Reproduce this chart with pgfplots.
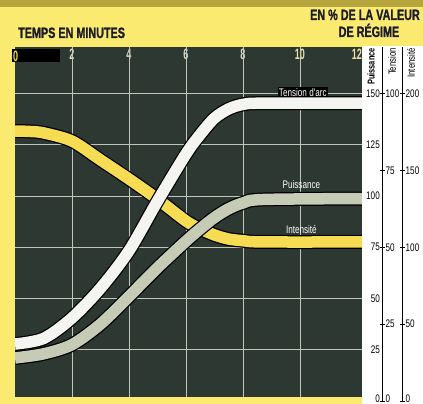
\documentclass[border=0pt]{standalone}
\usepackage{fontspec}
\setmainfont{Liberation Sans}
\newfontfamily\cond[FakeStretch=0.74]{Liberation Sans}
\newfontfamily\condt[FakeStretch=0.72, FakeBold=1.2]{Liberation Sans}
\newfontfamily\condn[FakeStretch=0.6]{Liberation Sans}
\usepackage{pgfplots}
\usepackage{pgfplotstable}
\pgfplotsset{compat=1.18}

\definecolor{bgyel}{HTML}{FAEB70}
\definecolor{olive}{HTML}{B5A53C}
\definecolor{plotbg}{HTML}{2E3833}
\definecolor{gridc}{HTML}{C4C6BC}
\definecolor{curvyel}{HTML}{F6DC52}
\definecolor{curvwht}{HTML}{F4F4F0}
\definecolor{curvgry}{HTML}{C6CBB5}
\definecolor{ticktxt}{HTML}{DDDACB}
\definecolor{tickyl}{HTML}{EDE3A0}
\definecolor{titletxt}{HTML}{1C1C2A}

% values in "Puissance" units (tension = 2/3, intensite = 4/3)
\pgfplotstableread{
t    v
0    27.8
1    30.5
2    40.5
3    55.0
4    73.3
5    97.5
6    120.5
6.5  130.0
7    138.0
7.5  142.5
8    144.7
8.7  145.3
12.5 145.3
}\tension

\pgfplotstableread{
t    v
0    21.0
1    23.0
2    27.5
3    37.5
4    51.0
5    65.0
6    78.0
6.5  84.0
7    89.5
7.5  93.8
8    96.6
8.7  98.3
12.5 98.8
}\puissance

\pgfplotstableread{
t    v
0    131.7
0.5  131.5
1    130.8
2    126.8
3    117.6
4    108.3
5    98.5
6    87.8
6.5  84.0
7    81.0
7.5  79.0
8    78.2
8.7  77.6
12.5 77.6
}\intensite

\newcommand\zerobox{\rlap{\kern-3pt\setlength\fboxsep{1pt}\colorbox{black}{\makebox[46pt][l]{\rule{0pt}{11pt}\textcolor{curvyel}{0}}}}}

\begin{document}
\begin{tikzpicture}[x=1pt,y=1pt]
\useasboundingbox (0,0) rectangle (423,404);
\fill[bgyel] (0,0) rectangle (423,404);
\fill[olive] (0,397) rectangle (423,404);
\fill[white] (362,0) rectangle (423,358);

\node[anchor=base west, inner sep=0, text=titletxt, font=\condt\bfseries\fontsize{15}{15}\selectfont] at (18,366) {TEMPS EN MINUTES};
\node[anchor=base east, inner sep=0, text=titletxt, font=\condt\bfseries\fontsize{15}{15}\selectfont] at (420,384) {EN \% DE LA VALEUR};
\node[anchor=base, inner sep=0, text=titletxt, font=\condt\bfseries\fontsize{15}{15}\selectfont] at (369,367) {DE RÉGIME};

\node[rotate=90, anchor=east, inner sep=0, font=\cond\bfseries\fontsize{10}{10}\selectfont] at (371,356) {Puissance};
\node[rotate=90, anchor=east, inner sep=0, font=\cond\fontsize{10.5}{10.5}\selectfont] at (392,356) {Tension};
\node[rotate=90, anchor=east, inner sep=0, font=\cond\fontsize{10.5}{10.5}\selectfont] at (411,356) {Intensité};

\begin{axis}[
  at={(15pt,7.1pt)}, anchor=south west,
  scale only axis, width=346.8pt, height=349.5pt,
  xmin=0, xmax=12.17, ymin=2, ymax=172.5,
  axis background/.style={fill=plotbg},
  axis line style={draw=none},
  xtick={0,2,4,6,8,10,12},
  xticklabels={\zerobox,2,4,6,8,\textcolor{tickyl}{10},\textcolor{tickyl}{12}},
  xmajorgrids=false,
  extra x ticks={2,4,6,8,10}, extra x tick labels={},
  extra x tick style={xmajorgrids=true},
  ytick={25,50,...,150}, yticklabels={}, ymajorgrids=true,
  major grid style={draw=gridc, line width=0.8pt},
  major tick length=0pt,
  xticklabel pos=upper,
  xticklabel style={anchor=north, yshift=-0.5pt, inner sep=1pt, text=ticktxt,
    font=\condn\bfseries\fontsize{15}{15}\selectfont},
]
\addplot[draw=black, line width=14pt, smooth] table {\intensite};
\addplot[draw=curvyel, line width=11.5pt, smooth] table {\intensite};
\addplot[draw=black, line width=14pt, smooth] table {\puissance};
\addplot[draw=curvgry, line width=11.5pt, smooth] table {\puissance};
\addplot[draw=black, line width=14pt, smooth] table {\tension};
\addplot[draw=curvwht, line width=11.5pt, smooth] table {\tension};
\node[fill=black, text=white, inner sep=1pt, font=\cond\fontsize{11}{11}\selectfont] at (axis cs:10.1,150.7) {Tension d'arc};
\node[text=white, inner sep=1pt, font=\cond\fontsize{11}{11}\selectfont] at (axis cs:10.05,105.4) {Puissance};
\node[text=white, inner sep=1pt, font=\cond\fontsize{11}{11}\selectfont] at (axis cs:10.05,83.9) {Intensité};
\end{axis}

% Puissance scale labels
\begin{axis}[
  at={(381.5pt,3pt)}, anchor=south west,
  scale only axis, width=1pt, height=353.6pt,
  xmin=0, xmax=1, ymin=0, ymax=172.5,
  hide x axis, axis y line*=left, y axis line style={draw=none},
  ytick={25,50,75,100,125,150}, yticklabels={25,50,75,100,125,150},
  extra y ticks={0}, extra y tick labels={0},
  extra y tick style={yticklabel style={yshift=2.5pt}},
  major tick length=0pt,
  yticklabel style={anchor=east, inner sep=1.5pt, font=\cond\fontsize{11}{11}\selectfont},
]
\end{axis}

% Tension scale
\begin{axis}[
  at={(381pt,3pt)}, anchor=south west,
  scale only axis, width=1pt, height=353.6pt,
  xmin=0, xmax=1, ymin=0, ymax=172.5,
  hide x axis, axis y line*=right, y axis line style={black, line width=0.7pt},
  ytick={37.5,75,112.5,150}, yticklabels={25,50,75,100},
  extra y ticks={0}, extra y tick labels={0},
  extra y tick style={yticklabel style={yshift=2.5pt}},
  tick align=center, major tick length=5pt, major tick style={black, line width=0.6pt},
  yticklabel style={anchor=west, inner sep=1pt, font=\cond\fontsize{11}{11}\selectfont},
]
\end{axis}

% Intensite scale
\begin{axis}[
  at={(401pt,3pt)}, anchor=south west,
  scale only axis, width=1pt, height=353.6pt,
  xmin=0, xmax=1, ymin=0, ymax=172.5,
  hide x axis, axis y line*=right, y axis line style={black, line width=0.7pt},
  ytick={37.5,75,112.5,150}, yticklabels={50,100,150,200},
  extra y ticks={0}, extra y tick labels={0},
  extra y tick style={yticklabel style={yshift=2.5pt}},
  tick align=center, major tick length=5pt, major tick style={black, line width=0.6pt},
  yticklabel style={anchor=west, inner sep=1pt, font=\cond\fontsize{11}{11}\selectfont},
]
\end{axis}
\end{tikzpicture}
\end{document}
